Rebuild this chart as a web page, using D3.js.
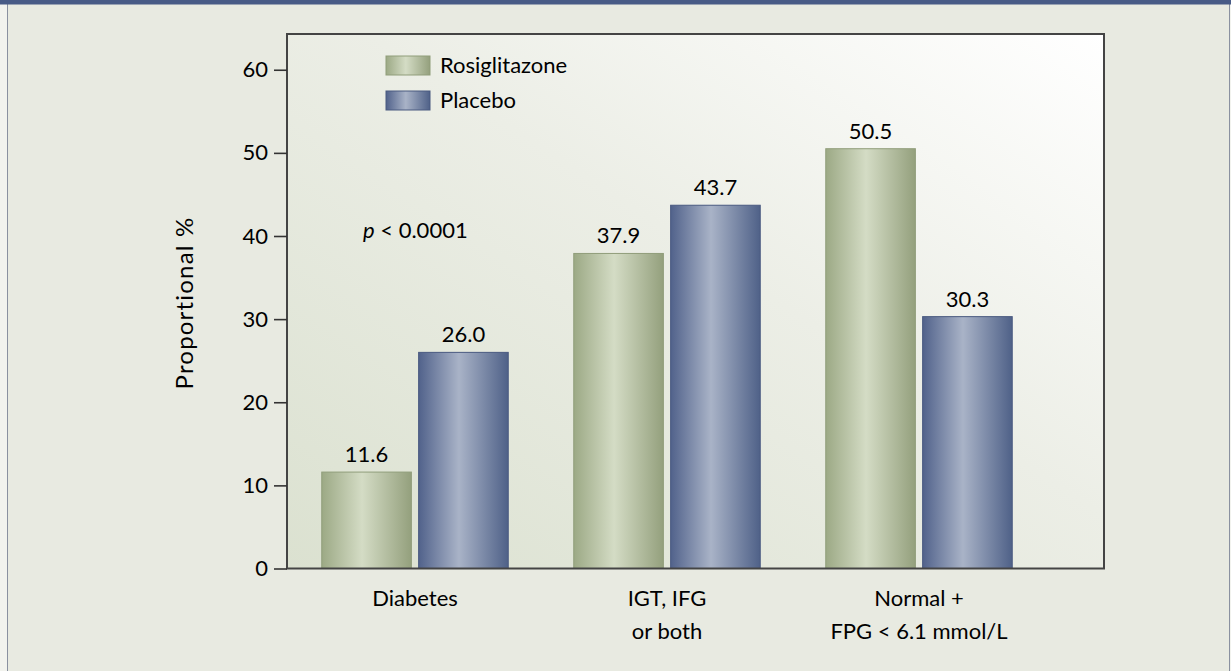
<!DOCTYPE html>
<html>
<head>
<meta charset="utf-8">
<script src="https://cdn.jsdelivr.net/npm/d3@7"></script>
<style>
  html, body { margin: 0; padding: 0; background: #ffffff; }
  svg { display: block; }
  text { font-family: Lato, "Open Sans", sans-serif; fill: #000; }
</style>
</head>
<body>
<svg id="chart" width="1231" height="671"></svg>
<script>
// Outcome categories (multi-line labels)
const categories = ["Diabetes", "IGT, IFG", "Normal +"];
const categoryLines = [["Diabetes"], ["IGT, IFG", "or both"], ["Normal +", "FPG < 6.1 mmol/L"]];
const seriesNames = ["Rosiglitazone", "Placebo"];
const rosiglitazone = [11.6, 37.9, 50.5];
const placebo = [26.0, 43.7, 30.3];
const yTicks = [0, 10, 20, 30, 40, 50, 60];
const pText = "< 0.0001";

const svg = d3.select("#chart");
const W = 1231, H = 671;

// Panel background with top band
svg.append("rect").attr("x", 0).attr("y", 0).attr("width", W).attr("height", H).attr("fill", "#f2f3ee");
svg.append("rect").attr("x", 7.5).attr("y", 0).attr("width", 1222).attr("height", H + 2)
  .attr("fill", "#e8eae1").attr("stroke", "#8a91a0").attr("stroke-width", 1);
svg.append("rect").attr("x", 0).attr("y", 0).attr("width", W).attr("height", 4.5).attr("fill", "#485b86");

const defs = svg.append("defs");
const frameGrad = defs.append("linearGradient").attr("id", "frameGrad")
  .attr("x1", 0).attr("y1", 1).attr("x2", 1).attr("y2", 0);
frameGrad.append("stop").attr("offset", "0%").attr("stop-color", "#dbe1d0");
frameGrad.append("stop").attr("offset", "55%").attr("stop-color", "#eceee6");
frameGrad.append("stop").attr("offset", "100%").attr("stop-color", "#ffffff");

function barGradient(id, edgeL, mid, edgeR) {
  const g = defs.append("linearGradient").attr("id", id)
    .attr("x1", 0).attr("y1", 0).attr("x2", 1).attr("y2", 0);
  g.append("stop").attr("offset", "0%").attr("stop-color", edgeL);
  g.append("stop").attr("offset", "45%").attr("stop-color", mid);
  g.append("stop").attr("offset", "100%").attr("stop-color", edgeR);
}
barGradient("gGreen", "#9ca985", "#d4dcc5", "#94a07d");
barGradient("gBlue", "#51628b", "#a9b3c7", "#4f6188");

const fills = { "Rosiglitazone": "url(#gGreen)", "Placebo": "url(#gBlue)" };
const strokes = { "Rosiglitazone": "#909d7a", "Placebo": "#4a5a80" };

// Plot frame
const frame = { left: 287, top: 34, right: 1104, bottom: 568.5 };

const y = d3.scaleLinear().domain([0, 64.3]).range([frame.bottom, frame.top]);
const x0 = d3.scaleBand().domain(categories).range([289, 1045])
  .paddingInner(0.26).paddingOuter(0.13);
const x1 = d3.scaleBand().domain(seriesNames).range([0, x0.bandwidth()]).paddingInner(0.075);

svg.append("rect")
  .attr("x", frame.left).attr("y", frame.top)
  .attr("width", frame.right - frame.left).attr("height", frame.bottom - frame.top)
  .attr("fill", "url(#frameGrad)");

// Bars
const rows = categories.map((c, i) => ({
  cat: c,
  values: [
    { name: "Rosiglitazone", value: rosiglitazone[i] },
    { name: "Placebo", value: placebo[i] }
  ]
}));

const groups = svg.append("g").selectAll("g").data(rows).join("g")
  .attr("transform", d => `translate(${x0(d.cat)},0)`);

groups.selectAll("rect").data(d => d.values).join("rect")
  .attr("x", d => x1(d.name))
  .attr("y", d => y(d.value))
  .attr("width", x1.bandwidth())
  .attr("height", d => y(0) - y(d.value))
  .attr("fill", d => fills[d.name])
  .attr("stroke", d => strokes[d.name])
  .attr("stroke-width", 1);

groups.selectAll("text.val").data(d => d.values).join("text")
  .attr("class", "val")
  .attr("x", d => x1(d.name) + x1.bandwidth() / 2)
  .attr("y", d => y(d.value) - 10)
  .attr("text-anchor", "middle")
  .attr("font-size", 22)
  .text(d => d.value.toFixed(1));

// Frame border
svg.append("rect")
  .attr("x", frame.left).attr("y", frame.top)
  .attr("width", frame.right - frame.left).attr("height", frame.bottom - frame.top)
  .attr("fill", "none").attr("stroke", "#444").attr("stroke-width", 2);

// Y axis
const yAxis = svg.append("g").attr("transform", `translate(${frame.left},0)`)
  .call(d3.axisLeft(y).tickValues(yTicks).tickSize(13).tickPadding(6).tickFormat(d3.format("d")));
yAxis.select(".domain").remove();
yAxis.selectAll(".tick line").attr("stroke", "#333").attr("stroke-width", 1.6);
yAxis.selectAll(".tick text").attr("font-size", 22).attr("font-family", "Lato, sans-serif").attr("fill", "#000");

// Y axis title
svg.append("text")
  .attr("transform", "translate(193,303) rotate(-90)")
  .attr("text-anchor", "middle")
  .attr("font-size", 24)
  .attr("letter-spacing", 1.2)
  .text("Proportional %");

// Category labels
const xl = svg.append("g");
categoryLines.forEach((lines, i) => {
  const cx = x0(categories[i]) + x0.bandwidth() / 2;
  const t = xl.append("text").attr("text-anchor", "middle").attr("font-size", 22);
  lines.forEach((ln, j) => {
    t.append("tspan").attr("x", cx).attr("y", 606 + j * 33).text(ln);
  });
});

// Legend
const legend = svg.append("g").attr("transform", "translate(386,56)");
seriesNames.forEach((name, i) => {
  const g = legend.append("g").attr("transform", `translate(0,${i * 35})`);
  g.append("rect").attr("width", 44).attr("height", 19)
    .attr("fill", fills[name]).attr("stroke", strokes[name]).attr("stroke-width", 1);
  g.append("text").attr("x", 54).attr("y", 17).attr("font-size", 22).text(name);
});

// Significance annotation
const pt = svg.append("text").attr("x", 363).attr("y", 238).attr("font-size", 22);
pt.append("tspan").attr("font-style", "italic").text("p");
pt.append("tspan").text(" " + pText);
</script>
</body>
</html>
